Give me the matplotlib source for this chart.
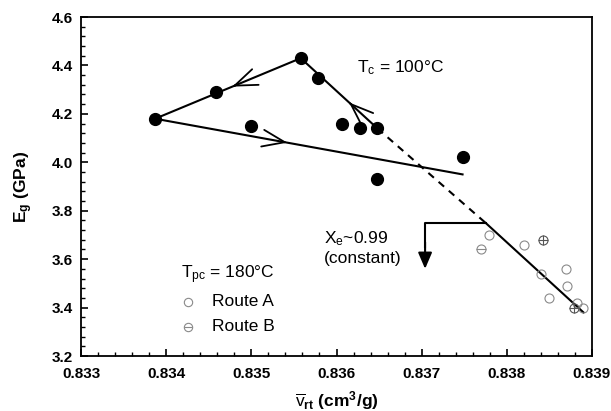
import numpy as np
import matplotlib
matplotlib.use('Agg')
import matplotlib.pyplot as plt
from matplotlib.ticker import MultipleLocator

plt.rcParams['font.family'] = ['Liberation Sans', 'DejaVu Sans']
plt.rcParams['mathtext.fontset'] = 'custom'
plt.rcParams['mathtext.rm'] = 'Liberation Sans'
plt.rcParams['mathtext.it'] = 'Liberation Sans:italic'
plt.rcParams['mathtext.bf'] = 'Liberation Sans:bold'

# Tc = 100C samples (filled)
filled_v = [0.83387, 0.83458, 0.83558, 0.83578, 0.83500, 0.83607, 0.83627, 0.83648, 0.83748, 0.83648]
filled_e = [4.18, 4.29, 4.43, 4.35, 4.15, 4.16, 4.14, 4.14, 4.02, 3.93]

# Tpc = 180C samples
route_a_v = [0.83779, 0.83820, 0.83840, 0.83870, 0.83871, 0.83850, 0.83882, 0.83890]
route_a_e = [3.70, 3.66, 3.54, 3.56, 3.49, 3.44, 3.42, 3.40]
route_b_v = [0.83770]
route_b_e = [3.64]
route_bx_v = [0.83842, 0.83879]
route_bx_e = [3.68, 3.40]

# guide lines
loop_v = [0.83648, 0.83558, 0.83387]
loop_e = [4.14, 4.43, 4.18]
lower_v = [0.83387, 0.83748]
lower_e = [4.18, 3.95]
dash_v = [0.83648, 0.83775]
dash_e = [4.14, 3.75]
fit_v = [0.83775, 0.83890]
fit_e = [3.75, 3.38]
bracket_v = [0.83775, 0.83704]
bracket_e = [3.75, 3.56]

fig = plt.figure(figsize=(6.11, 4.11), dpi=100)
ax = fig.add_axes([0.1326, 0.1338, 0.8363, 0.8248])

lw = 1.5
ax.plot(loop_v, loop_e, color='black', lw=lw)
ax.plot(lower_v, lower_e, color='black', lw=lw)
ax.plot(dash_v, dash_e, color='black', lw=lw, ls=(0, (3.5, 3)))
ax.plot(fit_v, fit_e, color='black', lw=lw)

# bracket with filled arrow down
ax.plot([bracket_v[0], bracket_v[1], bracket_v[1]],
        [bracket_e[0], bracket_e[0], bracket_e[0] - 0.10], color='black', lw=lw)
ax.annotate('', xy=(bracket_v[1], bracket_e[1]), xytext=(bracket_v[1], bracket_e[0] - 0.08),
            arrowprops=dict(arrowstyle='-|>,head_length=0.7,head_width=0.3',
                            color='black', lw=lw, shrinkA=0, shrinkB=0, mutation_scale=14))


def chevron(x0, y0, x1, y1, frac):
    # open arrow head along a segment, pointing from (x0,y0) toward (x1,y1)
    tx = x0 + frac * (x1 - x0)
    ty = y0 + frac * (y1 - y0)
    bx = x0 + (frac - 0.02) * (x1 - x0)
    by = y0 + (frac - 0.02) * (y1 - y0)
    ax.annotate('', xy=(tx, ty), xytext=(bx, by),
                arrowprops=dict(arrowstyle='->,head_length=0.85,head_width=0.32',
                                color='black', lw=1.3, shrinkA=0, shrinkB=0,
                                mutation_scale=19))


chevron(loop_v[1], loop_e[1], loop_v[2], loop_e[2], 0.47)
chevron(loop_v[0], loop_e[0], loop_v[1], loop_e[1], 0.37)
chevron(lower_v[0], lower_e[0], lower_v[1], lower_e[1], 0.43)

ax.plot(filled_v, filled_e, 'o', color='black', ms=8.5, zorder=5)

gray = '#8a8a8a'
ax.plot(route_a_v, route_a_e, 'o', mfc='none', mec=gray, ms=6.5, mew=0.8, zorder=4)
ax.plot(route_b_v, route_b_e, 'o', mfc='none', mec=gray, ms=6.5, mew=0.8, zorder=4)
ax.plot(route_b_v, route_b_e, '_', color=gray, ms=6.5, mew=0.8, zorder=4)
ax.plot(route_bx_v, route_bx_e, 'o', mfc='none', mec='#555555', ms=6.5, mew=0.8, zorder=4)
ax.plot(route_bx_v, route_bx_e, '+', color='#555555', ms=6.5, mew=0.8, zorder=4)

# annotations
fs = 12.5
ax.text(0.83624, 4.389, r'T$_\mathrm{c}$ = 100°C', fontsize=fs, va='center')
ax.text(0.83585, 3.686, r'X$_\mathrm{e}$~0.99', fontsize=fs, va='center')
ax.text(0.83585, 3.604, '(constant)', fontsize=fs, va='center')
ax.text(0.83417, 3.535, r'T$_\mathrm{pc}$ = 180°C', fontsize=fs, va='center')

# hand-made legend
ax.plot([0.83426], [3.425], 'o', mfc='none', mec=gray, ms=6, mew=0.8)
ax.plot([0.83426], [3.321], 'o', mfc='none', mec=gray, ms=6, mew=0.8)
ax.plot([0.83426], [3.321], '_', color=gray, ms=6, mew=0.8)
ax.text(0.83454, 3.425, 'Route A', fontsize=fs, va='center')
ax.text(0.83454, 3.321, 'Route B', fontsize=fs, va='center')

ax.set_xlim(0.833, 0.839)
ax.set_ylim(3.2, 4.6)
ax.xaxis.set_major_locator(MultipleLocator(0.001))
ax.xaxis.set_minor_locator(MultipleLocator(0.0002))
ax.yaxis.set_major_locator(MultipleLocator(0.2))
ax.yaxis.set_minor_locator(MultipleLocator(0.04))
ax.set_xticklabels([f'{v:.3f}' for v in ax.get_xticks()])
ax.set_yticklabels([f'{v:.1f}' for v in ax.get_yticks()])
ax.tick_params(which='both', direction='in', top=False, right=False)
ax.tick_params(which='major', length=5, width=1.2, labelsize=11)
ax.tick_params(axis='x', which='major', pad=8)
ax.tick_params(axis='y', which='major', pad=6)
ax.tick_params(which='minor', length=3, width=1.0)
for lab in ax.get_xticklabels() + ax.get_yticklabels():
    lab.set_fontweight('bold')
for sp in ax.spines.values():
    sp.set_linewidth(1.3)

ax.set_xlabel(r'$\overline{\mathrm{v}}_{\mathbf{rt}}$ (cm$^{\mathbf{3}}$/g)',
              fontsize=12.5, fontweight='bold', labelpad=6)
ax.set_ylabel(r'E$_{\mathbf{g}}$ (GPa)', fontsize=12.5, fontweight='bold', labelpad=12)

fig.savefig('out.png', dpi=100)
